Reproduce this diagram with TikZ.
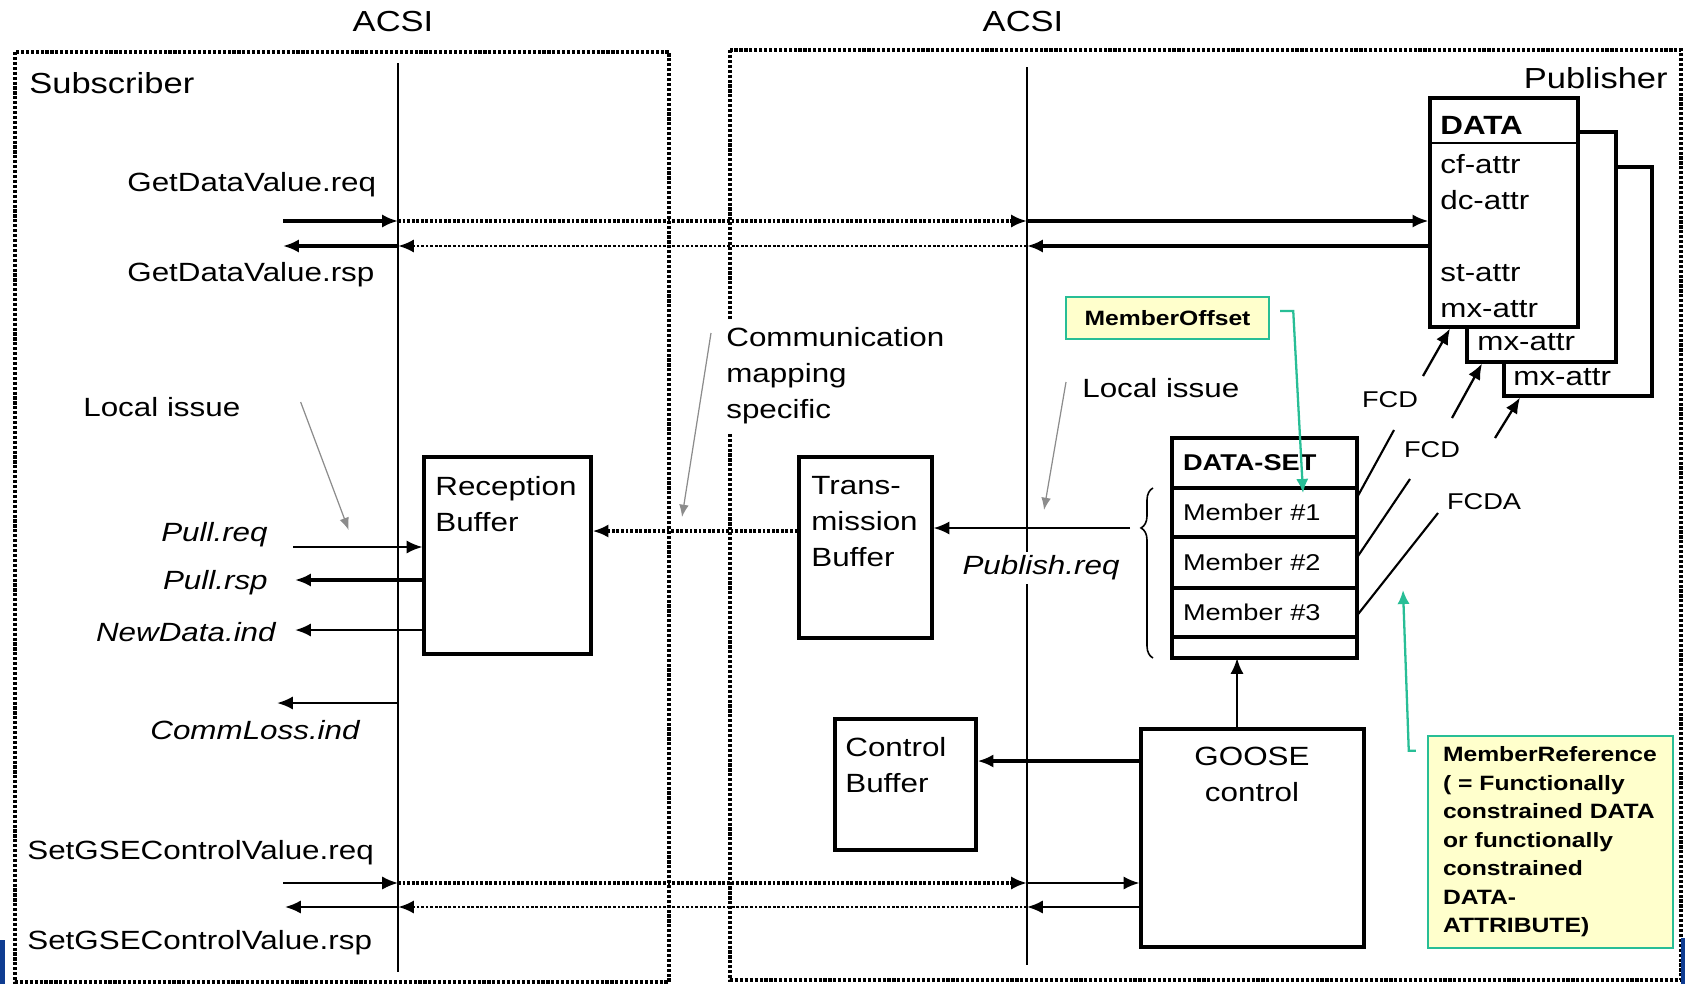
\documentclass[tikz,border=0pt]{standalone}
\usepackage{fontspec}
\setmainfont{Liberation Sans}[FakeStretch=1.19]
\usetikzlibrary{arrows.meta, positioning, decorations.pathreplacing}
\definecolor{noteline}{RGB}{40,190,150}
\definecolor{notefill}{RGB}{255,255,204}
\definecolor{issuegray}{RGB}{140,140,140}
\definecolor{slideblue}{RGB}{15,60,145}
\newcommand{\fstitle}{\fontsize{16.5}{20}\selectfont}
\newcommand{\fsbody}{\fontsize{15}{20.5}\selectfont}
\newcommand{\fssmall}{\fontsize{13}{16}\selectfont}
\newcommand{\fsnote}{\fontsize{11.8}{16.2}\selectfont\bfseries}
\tikzset{
  frame/.style={line width=2.1pt, dash pattern=on 1.8pt off 1pt},
  dotflow/.style={->, line width=2pt, dash pattern=on 1.6pt off 1pt},
  heavy/.style={->, line width=2.8pt},
  medium/.style={->, line width=2pt},
  plain/.style={->, line width=1.3pt},
  link/.style={line width=1.2pt},
  blk/.style 2 args={draw, line width=1.8pt, fill=white, minimum width=#1, minimum height=#2},
  row/.style={draw, line width=1.8pt, outer sep=0pt, minimum width=37mm, text width=32.6mm, inner xsep=2.2mm, align=left, font=\fssmall},
  note/.style={draw=noteline, fill=notefill, line width=1.4pt, font=\fsnote},
  greenflow/.style={-{Latex[length=8pt,width=7pt]}, color=noteline, line width=1.3pt},
  issue/.style={-{Latex[length=7pt,width=5.5pt]}, color=issuegray, line width=0.7pt}
}

\begin{document}
\begin{tikzpicture}[x=0.2mm, y=-0.2mm, >={Latex[length=9pt,width=7.5pt]},
  every node/.style={inner sep=0pt, font=\fsbody}]
\useasboundingbox (0,0) rectangle (1685,984);
% the two stations
\draw[frame] (15,52) rectangle (669,982);
\draw[frame] (730,50) rectangle (1681,980);
\fill[slideblue] (0,940) rectangle (5,984);
\fill[slideblue] (1681,938) rectangle (1685,984);
\node[font=\fstitle] (acsiLtxt) at (393,22) {ACSI};
\node[font=\fstitle] (acsiRtxt) at (1023,22) {ACSI};
\node[font=\fstitle, anchor=west] (sub) at (29,83) {Subscriber};
\node[font=\fstitle, anchor=east] (pub) at (1668,78) {Publisher};
\coordinate (acsiL) at (398,63);
\coordinate (acsiR) at (1027,67);
\draw[line width=1.5pt] (acsiL) -- (398,972);
\draw[line width=1.5pt] (acsiR) -- (1027,965);

% buffers and blocks
\node[blk={33.4mm}{39.4mm}] (recv) at (507.5,555.5) {};
\node[blk={26.6mm}{36.2mm}] (trans) at (865.5,547.5) {};
\node[blk={28.2mm}{26.2mm}] (ctrl) at (905.5,784.5) {};
\node[blk={44.6mm}{43.6mm}] (goose) at (1252.5,838) {};
\node[blk={29.6mm}{45.8mm}] (data3) at (1578,281.5) {};
\node[blk={29.8mm}{46mm}] (data2) at (1541.5,247) {};
\node[blk={29.6mm}{45.8mm}] (data1) at (1504,212.5) {};
\draw[line width=0.9pt] (data1.west |- 0,143) -- (data1.east |- 0,143);
\node[anchor=west, align=left] (recvtxt) at (435,504.5) {Reception\\Buffer};
\node[anchor=west, align=left] (transtxt) at (811,522) {Trans-\\mission\\Buffer};
\node[anchor=west, align=left] (ctrltxt) at (845,765) {Control\\Buffer};
\node[align=center] (goosetxt) at (1252,774.5) {GOOSE\\control};
\node[anchor=west, font=\fsbody\bfseries] (datatitle) at (1440,125) {DATA};
\node[anchor=west, align=left] (attrs) at (1440,236) {cf-attr\\dc-attr\\[20.5pt]st-attr\\mx-attr};
\node[anchor=west] (mx2) at (1477,342) {mx-attr};
\node[anchor=west] (mx3) at (1513,377) {mx-attr};

% data set
\node[row, minimum height=10mm, font=\fssmall\bfseries] (dshead) at (1264.5,463) {DATA-SET};
\node[row, minimum height=9.8mm, below=0pt of dshead] (m1) {Member \#1};
\node[row, minimum height=10.2mm, below=0pt of m1] (m2) {Member \#2};
\node[row, minimum height=9.8mm, below=0pt of m2] (m3) {Member \#3};
\node[row, minimum height=4.2mm, below=0pt of m3] (mend) {};
\draw[decorate, decoration={brace, amplitude=2.4mm, aspect=0.765}, line width=0.9pt] (1153,658) -- (1153,488);
\coordinate (bracetip) at (1130,528);

% notes
\node[note, minimum width=40.6mm, minimum height=8.4mm] (offset) at (1167.5,318) {MemberOffset};
\node[note, minimum width=49mm, minimum height=42.4mm, text width=43mm, inner xsep=3mm, align=left] (mref) at (1550.5,842)
  {MemberReference\\( = Functionally\\constrained DATA\\or functionally\\constrained\\DATA-\\ATTRIBUTE)};

% texts
\node[anchor=west] (gdreq) at (127,185) {GetDataValue.req};
\node[anchor=west] (gdrsp) at (127,275) {GetDataValue.rsp};
\node[anchor=west] (issueL) at (83,407) {Local issue};
\node[anchor=east, font=\fsbody\itshape] (pullreq) at (268,535) {Pull.req};
\node[anchor=east, font=\fsbody\itshape] (pullrsp) at (268,583) {Pull.rsp};
\node[anchor=east, font=\fsbody\itshape] (newdata) at (276,632) {NewData.ind};
\node[font=\fsbody\itshape] (commloss) at (255,730) {CommLoss.ind};
\node[anchor=west] (setreq) at (27,853) {SetGSEControlValue.req};
\node[anchor=west] (setrsp) at (27,943) {SetGSEControlValue.rsp};
\node[anchor=west, align=left, fill=white, inner ysep=5pt] (cms) at (726,376) {Communication\\mapping\\specific};
\node[anchor=west] (issueR) at (1082,388) {Local issue};
\node[font=\fsbody\itshape, fill=white, inner sep=2pt] (pubreq) at (1041,568) {Publish.req};
\node[font=\fssmall] (fcd1) at (1390,400) {FCD};
\node[font=\fssmall] (fcd2) at (1432,450) {FCD};
\node[font=\fssmall] (fcda) at (1484,502) {FCDA};

% GetDataValue
\coordinate (gdq) at (283,221);
\coordinate (gds) at (283,246);
\draw[heavy] (gdq) -- (gdq -| acsiL);
\draw[dotflow] (gdq -| acsiL) -- (gdq -| acsiR);
\draw[heavy] (gdq -| acsiR) -- (gdq -| data1.west);
\draw[medium] (gds -| data1.west) -- (gds -| acsiR);
\draw[dotflow, line width=1.6pt] (gds -| acsiR) -- (gds -| acsiL);
\draw[medium] (gds -| acsiL) -- (gds);

% local services of the subscriber
\coordinate (preq) at (293,547);
\coordinate (prsp) at (295,580);
\coordinate (nd) at (295,630);
\coordinate (cl) at (277,703);
\draw[plain] (preq) -- (preq -| recv.west);
\draw[medium, line width=2.3pt] (prsp -| recv.west) -- (prsp);
\draw[plain, line width=1.5pt] (nd -| recv.west) -- (nd);
\draw[plain, line width=1.5pt] (cl -| acsiL) -- (cl);

% SetGSEControlValue
\coordinate (sgq) at (283,883);
\coordinate (sgs) at (285,907);
\draw[plain] (sgq) -- (sgq -| acsiL);
\draw[dotflow] (sgq -| acsiL) -- (sgq -| acsiR);
\draw[plain] (sgq -| acsiR) -- (sgq -| goose.west);
\draw[plain] (sgs -| goose.west) -- (sgs -| acsiR);
\draw[dotflow, line width=1.6pt] (sgs -| acsiR) -- (sgs -| acsiL);
\draw[plain] (sgs -| acsiL) -- (sgs);

% publisher side
\draw[dotflow] (trans.west |- 0,531) -- (recv.east |- 0,531);
\draw[plain] (bracetip) -- (trans.east |- bracetip);
\draw[medium, line width=2.3pt] (goose.west |- 0,761) -- (ctrl.east |- 0,761);
\coordinate (gup) at (1237,0);
\draw[plain, line width=1.5pt] (gup |- goose.north) -- (gup |- mend.south);

% member references
\coordinate (fcd1in) at (1394,430);
\coordinate (fcd1out) at (1423,376);
\coordinate (fcd2in) at (1410,479);
\coordinate (fcd2out) at (1452,418);
\coordinate (fcdain) at (1438,513);
\coordinate (fcdaout) at (1495,438);
\draw[link] ([yshift=3mm]m1.east) -- (fcd1in);
\draw[link] ([yshift=1mm]m2.east) -- (fcd2in);
\draw[link] ([yshift=-0.6mm]m3.east) -- (fcdain);
\draw[plain] (fcd1out) -- (data1.south -| 1450,0);
\draw[plain] (fcd2out) -- (data2.south -| 1482,0);
\draw[plain] (fcdaout) -- (data3.south -| 1520,0);

% notes and issues
\coordinate (offtip) at (1303,493);
\coordinate (reftip) at (1403,590);
\draw[greenflow] ([xshift=2mm,yshift=1.4mm]offset.east) -- ++(13,0) -- (offtip);
\draw[greenflow] ([xshift=-2.2mm,yshift=-3.2mm]mref.north west) -- ++(-7,0) -- (reftip);
\draw[issue] ([xshift=12mm,yshift=1mm]issueL.east) -- ++(48,128);
\draw[issue] ([xshift=-3mm,yshift=8.6mm]cms.west) -- ++(-29,184);
\draw[issue] ([xshift=-3.2mm,yshift=1.2mm]issueR.west) -- ++(-22,128);
\end{tikzpicture}
\end{document}
